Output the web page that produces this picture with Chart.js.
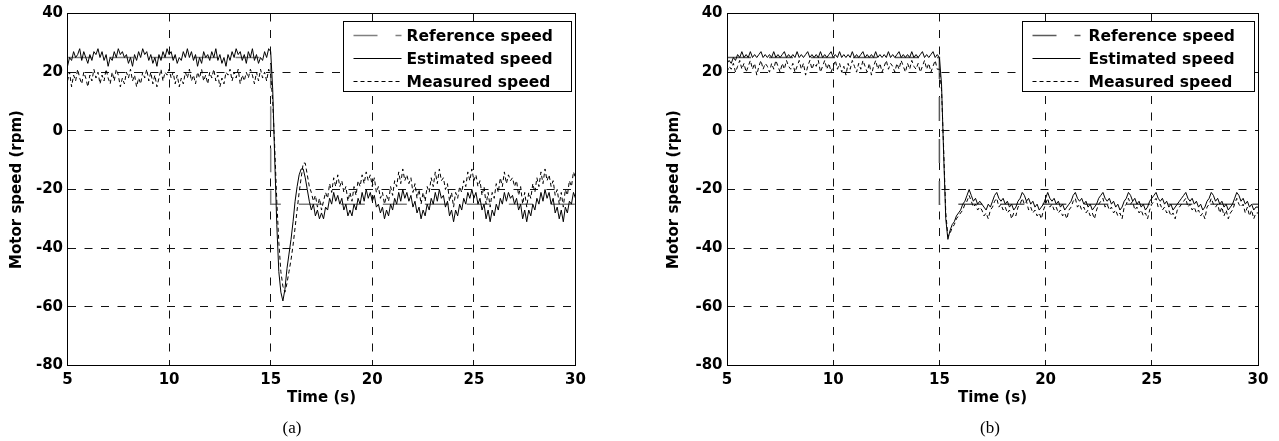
<!DOCTYPE html>
<html>
<head>
<meta charset="utf-8">
<title>Motor speed</title>
<script src="https://cdn.jsdelivr.net/npm/chart.js@4.4.0/dist/chart.umd.min.js"></script>
<style>
    body { margin: 0; background: #fff; }
    .panel { position: absolute; top: 0; }
    .caption {
        position: absolute;
        font-family: "Liberation Serif", "Times New Roman", serif;
        font-size: 17px;
        color: #000;
        transform: translate(-50%, -50%);
        top: 428px;
    }
</style>
</head>
<body>
<div class="panel" style="left:0"><canvas id="chartA" width="640" height="441"></canvas></div>
<div class="panel" style="left:640px"><canvas id="chartB" width="639" height="441"></canvas></div>
<div class="caption" style="left:292px">(a)</div>
<div class="caption" style="left:990px">(b)</div>

<script>
// Sampling of the recorded signals: 5 s to 30 s every 0.1 s
const T_START = 5;
const T_STEP = 0.1;

// Step command: 25 rpm, then -25 rpm at t = 15 s
const refTime = [5, 15, 15, 30];
const refSpeed = [25, 25, -25, -25];

const xTicks = [5, 10, 15, 20, 25, 30];
const yTicks = [-80, -60, -40, -20, 0, 20, 40];

// (a) estimated speed, one row per second
const estA = [
    22, 25, 24, 27, 25, 26, 28, 24, 27, 25,
    23, 26, 24, 27, 26, 28, 25, 27, 24, 26,
    22, 25, 24, 27, 25, 28, 26, 27, 25, 26,
    23, 25, 22, 26, 24, 27, 25, 28, 26, 27,
    24, 26, 23, 25, 22, 26, 24, 27, 25, 28,
    26, 27, 24, 26, 23, 25, 24, 27, 25, 28,
    25, 27, 24, 26, 22, 25, 23, 27, 25, 26,
    24, 27, 25, 28, 24, 26, 23, 25, 22, 26,
    24, 27, 25, 28, 26, 27, 24, 26, 23, 27,
    25, 28, 24, 26, 23, 25, 24, 27, 25, 28,
    27, 14, -10, -32, -48, -55, -58, -54, -47, -42,
    -37, -31, -24, -19, -15, -13, -13, -16, -20, -24,
    -27, -25, -29, -27, -30, -28, -30, -26, -27, -23,
    -25, -21, -24, -22, -25, -23, -27, -25, -29, -27,
    -29, -25, -27, -23, -25, -21, -24, -20, -23, -21,
    -24, -22, -26, -25, -28, -26, -30, -27, -29, -25,
    -27, -23, -25, -21, -24, -20, -23, -21, -24, -22,
    -26, -24, -28, -26, -30, -27, -29, -25, -27, -23,
    -25, -21, -24, -20, -23, -22, -26, -24, -29, -27,
    -31, -27, -29, -25, -27, -23, -25, -21, -23, -20,
    -23, -21, -25, -23, -27, -25, -30, -27, -31, -27,
    -29, -25, -27, -23, -25, -21, -24, -21, -23, -22,
    -25, -23, -27, -25, -30, -27, -31, -27, -29, -25,
    -27, -23, -25, -21, -24, -20, -23, -21, -25, -23,
    -28, -26, -30, -27, -31, -26, -28, -24, -25, -21,
    -23
];

// (a) measured speed
const measA = [
    17, 20, 15, 19, 17, 21, 18, 16, 20, 18,
    15, 19, 17, 21, 18, 20, 16, 19, 17, 21,
    18, 16, 20, 17, 21, 19, 15, 18, 16, 20,
    18, 21, 17, 19, 15, 18, 16, 20, 18, 21,
    17, 20, 16, 19, 15, 18, 21, 17, 20, 19,
    21, 18, 20, 16, 19, 15, 18, 16, 20, 18,
    21, 17, 19, 16, 20, 18, 21, 17, 19, 16,
    20, 18, 21, 17, 19, 15, 18, 16, 20, 19,
    21, 17, 20, 18, 21, 16, 19, 17, 20, 18,
    21, 19, 16, 20, 17, 21, 18, 20, 17, 21,
    19, 10, -6, -24, -38, -48, -53, -55, -52, -48,
    -44, -39, -33, -27, -21, -16, -11, -11, -15, -19,
    -21, -24, -22, -26, -23, -27, -24, -21, -23, -18,
    -21, -16, -19, -15, -19, -17, -21, -19, -24, -21,
    -24, -19, -22, -17, -19, -15, -18, -14, -17, -15,
    -19, -16, -21, -19, -23, -21, -25, -22, -24, -19,
    -22, -17, -19, -14, -18, -13, -17, -15, -18, -16,
    -21, -18, -23, -20, -25, -21, -24, -19, -21, -16,
    -19, -14, -18, -13, -17, -16, -20, -18, -24, -21,
    -26, -21, -23, -19, -21, -17, -19, -14, -17, -13,
    -17, -15, -19, -17, -22, -19, -25, -21, -26, -21,
    -23, -18, -21, -16, -19, -14, -18, -15, -17, -16,
    -19, -17, -22, -19, -25, -21, -26, -21, -23, -18,
    -21, -16, -19, -14, -18, -13, -17, -15, -19, -17,
    -22, -20, -25, -21, -26, -20, -22, -17, -19, -14,
    -16
];

// (b) estimated speed
const estB = [
    23, 24, 23, 25, 24, 26, 25, 27, 25, 26,
    25, 27, 25, 26, 25, 26, 27, 25, 26, 25,
    26, 25, 27, 25, 26, 25, 26, 27, 25, 26,
    25, 26, 25, 27, 25, 26, 25, 26, 27, 25,
    26, 25, 26, 25, 27, 25, 26, 25, 26, 27,
    25, 26, 25, 27, 25, 26, 25, 26, 25, 27,
    25, 26, 25, 26, 27, 25, 26, 25, 26, 25,
    27, 25, 26, 25, 26, 25, 27, 25, 26, 25,
    26, 27, 25, 26, 25, 26, 25, 27, 25, 26,
    25, 26, 27, 25, 26, 25, 26, 27, 25, 26,
    25, 16, -8, -30, -37, -34, -32, -31, -29, -28,
    -27, -25, -24, -22, -20, -22, -24, -23, -25, -24,
    -25, -26, -27, -25, -26, -24, -22, -21, -23, -24,
    -23, -25, -24, -26, -25, -27, -26, -24, -23, -21,
    -22, -24, -23, -25, -24, -26, -25, -27, -26, -25,
    -23, -21, -23, -24, -23, -25, -24, -26, -25, -27,
    -26, -25, -24, -22, -21, -23, -24, -23, -25, -24,
    -26, -25, -27, -26, -25, -23, -22, -21, -23, -24,
    -23, -25, -24, -26, -25, -27, -26, -24, -23, -21,
    -22, -24, -23, -25, -24, -26, -25, -27, -26, -24,
    -23, -22, -21, -23, -24, -23, -25, -24, -26, -25,
    -27, -26, -25, -24, -23, -22, -21, -23, -24, -23,
    -25, -24, -26, -25, -27, -26, -24, -23, -21, -22,
    -24, -23, -25, -24, -26, -25, -27, -26, -25, -23,
    -21, -22, -24, -23, -25, -24, -26, -25, -27, -26,
    -26
];

// (b) measured speed
const measB = [
    20, 22, 21, 23, 20, 22, 24, 21, 23, 20,
    22, 24, 21, 23, 19, 22, 24, 21, 23, 22,
    20, 23, 21, 24, 22, 20, 23, 21, 24, 22,
    21, 23, 20, 22, 24, 21, 23, 19, 22, 24,
    21, 23, 22, 24, 20, 22, 24, 21, 23, 20,
    22, 24, 21, 23, 20, 22, 19, 23, 21, 24,
    22, 20, 23, 21, 24, 22, 20, 23, 19, 22,
    24, 21, 23, 20, 22, 24, 21, 23, 22, 20,
    23, 21, 24, 22, 20, 23, 21, 24, 22, 21,
    23, 20, 22, 24, 21, 23, 20, 22, 24, 21,
    21, 14, -6, -28, -36, -35, -33, -32, -30, -29,
    -28, -27, -25, -24, -22, -24, -26, -25, -27, -26,
    -27, -29, -28, -30, -27, -26, -24, -23, -26, -25,
    -27, -26, -28, -27, -30, -28, -29, -26, -25, -23,
    -25, -24, -27, -26, -28, -27, -29, -28, -30, -27,
    -25, -23, -26, -25, -27, -26, -28, -27, -29, -28,
    -30, -27, -26, -24, -23, -26, -25, -27, -26, -28,
    -27, -29, -28, -30, -27, -25, -24, -23, -26, -25,
    -27, -26, -28, -27, -29, -28, -30, -26, -25, -23,
    -25, -24, -27, -26, -28, -27, -29, -28, -30, -27,
    -25, -24, -23, -26, -25, -27, -26, -28, -27, -29,
    -28, -30, -27, -26, -25, -24, -23, -26, -25, -27,
    -26, -28, -27, -29, -28, -30, -26, -25, -23, -25,
    -26, -25, -28, -26, -29, -27, -30, -28, -27, -25,
    -23, -25, -26, -25, -28, -26, -29, -27, -30, -28,
    -28
];

// Legend rows in the order they appear in the box (dataset indices)
const legendOrder = [2, 0, 1];

const tickFont = { family: 'DejaVu Sans', size: 15, weight: 'bold', lineHeight: 1.2 };
const titleFont = { family: 'DejaVu Sans', size: 15, weight: 'bold', lineHeight: 1.2 };

function toPoints(values) {
    return values.map((v, i) => ({ x: Math.round((T_START + i * T_STEP) * 10) / 10, y: v }));
}

// crisp 1px line position
const crisp = v => Math.floor(v) + 0.5;

// Axes frame and in-plot legend, drawn over the data
const frameAndLegend = {
    id: 'frameAndLegend',
    afterDatasetsDraw(chart, args, opts) {
        const { ctx, chartArea: a } = chart;
        ctx.save();
        ctx.setLineDash([]);
        ctx.strokeStyle = '#000';
        ctx.lineWidth = 1;
        const l = crisp(a.left), t = crisp(a.top), r = crisp(a.right), b = crisp(a.bottom);
        ctx.strokeRect(l, t, r - l, b - t);

        const w = opts.width;
        const h = 70;
        const x0 = crisp(a.right - 4 - w);
        const y0 = crisp(a.top + 8);
        ctx.fillStyle = '#fff';
        ctx.fillRect(x0, y0, w, h);
        ctx.strokeRect(x0, y0, w, h);

        ctx.font = 'bold 15.5px "DejaVu Sans"';
        ctx.textBaseline = 'middle';
        ctx.textAlign = 'left';
        legendOrder.forEach((idx, row) => {
            const ds = chart.data.datasets[idx];
            const y = crisp(y0 + 14 + row * 22.8);
            ctx.beginPath();
            ctx.setLineDash(ds.borderDash || []);
            ctx.strokeStyle = ds.borderColor;
            ctx.lineWidth = ds.borderWidth;
            ctx.moveTo(x0 + 10, y);
            ctx.lineTo(x0 + 58, y);
            ctx.stroke();
            ctx.setLineDash([]);
            ctx.fillStyle = '#000';
            ctx.fillText(ds.label, x0 + opts.textOffset, y + 1);
        });
        ctx.restore();
    }
};

function makeChart(canvasId, est, meas, cfg) {
    const ctx = document.getElementById(canvasId).getContext('2d');
    return new Chart(ctx, {
        type: 'line',
        data: {
            datasets: [
                {
                    label: 'Estimated speed',
                    data: toPoints(est),
                    borderColor: '#000',
                    borderWidth: 1,
                    borderDash: [],
                    pointRadius: 0,
                    tension: 0,
                    fill: false
                },
                {
                    label: 'Measured speed',
                    data: toPoints(meas),
                    borderColor: '#000',
                    borderWidth: 1,
                    borderDash: [4, 3],
                    pointRadius: 0,
                    tension: 0,
                    fill: false
                },
                {
                    label: 'Reference speed',
                    data: refTime.map((t, i) => ({ x: t, y: refSpeed[i] })),
                    borderColor: cfg.refColor,
                    borderWidth: 1.5,
                    borderDash: [24, 18],
                    pointRadius: 0,
                    tension: 0,
                    fill: false
                }
            ]
        },
        options: {
            responsive: false,
            animation: false,
            events: [],
            layout: { padding: { top: 13, right: cfg.padRight, bottom: 0, left: 0 } },
            plugins: {
                legend: { display: false },
                tooltip: { enabled: false },
                frameAndLegend: { width: cfg.legendWidth, textOffset: cfg.textOffset }
            },
            scales: {
                x: {
                    type: 'linear',
                    min: xTicks[0],
                    max: xTicks[xTicks.length - 1],
                    afterFit: s => { s.height = 75.5; },
                    afterBuildTicks: s => { s.ticks = xTicks.map(v => ({ value: v })); },
                    ticks: { color: '#000', font: tickFont, padding: 5.5, maxRotation: 0 },
                    grid: { color: '#111', lineWidth: 1, drawTicks: false },
                    border: { display: false, dash: [8, 8.5] },
                    title: {
                        display: true,
                        text: 'Time (s)',
                        color: '#000',
                        font: titleFont,
                        padding: { top: 0, bottom: 34 }
                    }
                },
                y: {
                    type: 'linear',
                    min: yTicks[0],
                    max: yTicks[yTicks.length - 1],
                    afterFit: s => { s.width = cfg.yWidth; },
                    afterBuildTicks: s => { s.ticks = yTicks.map(v => ({ value: v })); },
                    ticks: { color: '#000', font: tickFont, padding: 4.5 },
                    grid: { color: '#111', lineWidth: 1, drawTicks: false },
                    border: { display: false, dash: [8, 8.5] },
                    title: {
                        display: true,
                        text: 'Motor speed (rpm)',
                        color: '#000',
                        font: titleFont,
                        padding: { top: cfg.yTitlePad, bottom: 0 }
                    }
                }
            }
        },
        plugins: [frameAndLegend]
    });
}

makeChart('chartA', estA, measA, {
    padRight: 64.5, yWidth: 67.5, yTitlePad: 8.5,
    legendWidth: 228, textOffset: 63, refColor: '#808080'
});
makeChart('chartB', estB, measB, {
    padRight: 21, yWidth: 87, yTitlePad: 25,
    legendWidth: 232, textOffset: 66, refColor: '#5a5a5a'
});
</script>
</body>
</html>
